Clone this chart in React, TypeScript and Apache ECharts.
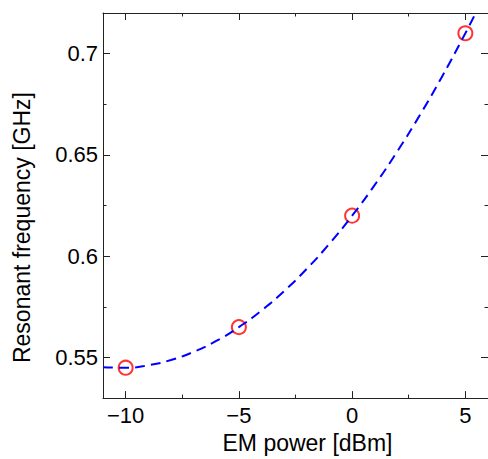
import React, { useEffect, useRef } from "react";
import * as echarts from "echarts";

const measuredPower = [-10, -5, 0, 5];
const measuredFreq = [0.545, 0.565, 0.62, 0.71];

const fitPower = [-11, -10, -9, -8, -7, -6, -5, -4, -3, -2, -1, 0, 1, 2, 3, 4, 5, 5.4];
const fitFreq = [0.5452, 0.545, 0.5462, 0.5488, 0.5528, 0.5582, 0.565, 0.5732, 0.5828, 0.5938, 0.6062, 0.62, 0.6352, 0.6518, 0.6698, 0.6892, 0.71, 0.7187];

const xMajor = [-10, -5, 0, 5];
const xMinor = [-7.5, -2.5, 2.5];
const yMajor = [0.55, 0.6, 0.65, 0.7];
const yMinor = [0.575, 0.625, 0.675];

const FONT = "Liberation Sans, Arial, Helvetica, sans-serif";

export default function App() {
  const ref = useRef<HTMLDivElement>(null);
  useEffect(() => {
    if (!ref.current) return;
    const chart = echarts.init(ref.current, null, { renderer: "svg" });
    const lineColor = "#222";
    const xBase = (pos: string, ticks: number[], len: number, showLine: boolean, label: boolean, name?: string) => ({
      type: "value",
      position: pos,
      min: -11,
      max: 6,
      splitLine: { show: false },
      axisLine: { show: showLine, onZero: false, lineStyle: { color: lineColor, width: 1 } },
      axisTick: { show: true, inside: true, length: len, customValues: ticks, lineStyle: { color: lineColor, width: 1 } },
      axisLabel: label
        ? {
            show: true,
            customValues: ticks,
            fontSize: 22,
            fontFamily: FONT,
            color: "#000",
            margin: 6,
            formatter: (v: number) => String(v).replace("-", "\u2212"),
          }
        : { show: false },
      name: name,
      nameLocation: "middle",
      nameGap: 31,
      nameTextStyle: { fontSize: 23, fontFamily: FONT, color: "#000", padding: [0, 0, 0, 24] },
    });
    const yBase = (pos: string, ticks: number[], len: number, showLine: boolean, label: boolean, name?: string) => ({
      type: "value",
      position: pos,
      min: 0.53,
      max: 0.72,
      splitLine: { show: false },
      axisLine: { show: showLine, onZero: false, lineStyle: { color: lineColor, width: 1 } },
      axisTick: { show: true, inside: true, length: len, customValues: ticks, lineStyle: { color: lineColor, width: 1 } },
      axisLabel: label
        ? {
            show: true,
            customValues: ticks,
            fontSize: 22,
            fontFamily: FONT,
            color: "#000",
            margin: 5,
            formatter: (v: number) => String(Math.round(v * 1000) / 1000),
          }
        : { show: false },
      name: name,
      nameLocation: "middle",
      nameGap: 70,
      nameTextStyle: { fontSize: 23, fontFamily: FONT, color: "#000", padding: [0, 44, 0, 0] },
    });
    chart.setOption({
      animation: false,
      backgroundColor: "#fff",
      grid: { left: 103, top: 13, right: -2, bottom: 60, containLabel: false },
      xAxis: [
        xBase("bottom", xMajor, 7, true, true, "EM power [dBm]"),
        xBase("bottom", xMinor, 3.5, false, false),
        xBase("top", xMajor, 7, true, false),
        xBase("top", xMinor, 3.5, false, false),
      ],
      yAxis: [
        yBase("left", yMajor, 7, true, true, "Resonant frequency [GHz]"),
        yBase("left", yMinor, 3.5, false, false),
        yBase("right", yMajor, 7, true, false),
        yBase("right", yMinor, 3.5, false, false),
      ],
      series: [
        {
          type: "line",
          xAxisIndex: 0,
          yAxisIndex: 0,
          data: fitPower.map((p, i) => [p, fitFreq[i]]),
          smooth: true,
          showSymbol: false,
          symbol: "none",
          clip: true,
          lineStyle: { color: "#0000ff", width: 2, type: [10, 6] },
        },
        {
          type: "scatter",
          xAxisIndex: 0,
          yAxisIndex: 0,
          data: measuredPower.map((p, i) => [p, measuredFreq[i]]),
          symbol: "circle",
          symbolSize: 14,
          itemStyle: { color: "rgba(0,0,0,0)", borderColor: "#ff0000", borderWidth: 2 },
        },
      ],
    });
    return () => chart.dispose();
  }, []);
  return <div ref={ref} style={{ position: "fixed", left: 0, top: 0, width: 488, height: 459 }} />;
}
